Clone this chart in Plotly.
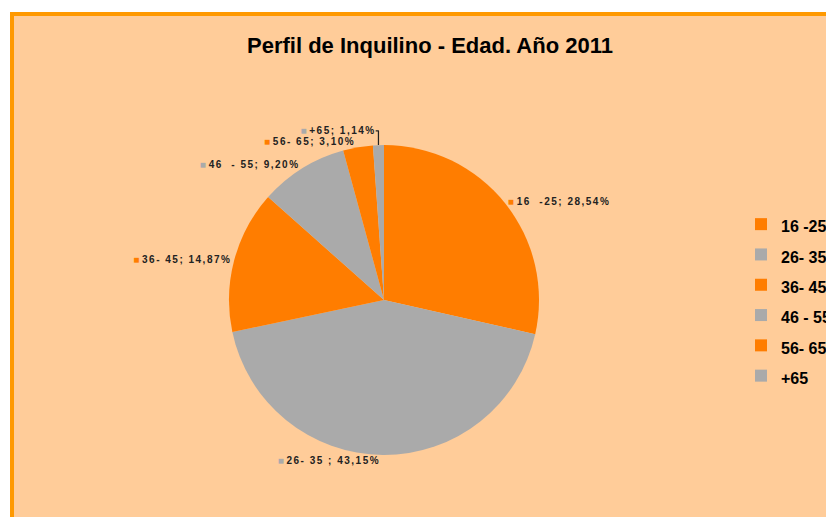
import plotly.graph_objects as go

categories = ["16 -25", "26- 35", "36- 45", "46 - 55", "56- 65", "+65"]
values = [28.54, 43.15, 14.87, 9.20, 3.10, 1.14]
label_texts = ["16  -25; 28,54%", "26- 35 ; 43,15%", "36- 45; 14,87%",
               "46  - 55; 9,20%", "56- 65; 3,10%", "+65; 1,14%"]

ORANGE = "#FF7D00"
GRAY = "#AAAAAA"
colors = [ORANGE, GRAY, ORANGE, GRAY, ORANGE, GRAY]

W, H = 834, 517
OFF = 8  # page body margin

def px(x):
    return (x - OFF) / W

def py(y):
    return 1 - (y - OFF) / H

slice_text = [f"<span style='color:{c}'>■</span> <span style='letter-spacing:1.5px'>{t}</span>"
              for c, t in zip(colors, label_texts)]
legend_labels = [f"<span style='font-size:16px'><b>{c}</b></span>" for c in categories]

cx, cy, R = 384, 300, 155

fig = go.Figure(go.Pie(
    labels=legend_labels,
    values=values,
    text=slice_text,
    textinfo="text",
    textposition="outside",
    sort=False,
    direction="clockwise",
    rotation=0,
    marker=dict(colors=colors, line=dict(width=0)),
    textfont=dict(family="Arial", size=10, color="#222222", weight="bold"),
    domain=dict(x=[px(cx - R), px(cx + R)], y=[py(cy + R), py(cy - R)]),
    showlegend=True,
    hoverinfo="skip",
))

fig.update_layout(
    width=W, height=H,
    margin=dict(l=0, r=0, t=0, b=0),
    paper_bgcolor="white",
    plot_bgcolor="white",
    title=dict(text="<b>Perfil de Inquilino - Edad. Año 2011</b>",
               x=px(430), xanchor="center", y=py(45), yanchor="middle",
               font=dict(family="Arial", size=22, color="black")),
    legend=dict(x=px(741), xanchor="left", y=py(204), yanchor="top",
                font=dict(family="Arial", size=21, color="black"),
                bgcolor="rgba(0,0,0,0)"),
    shapes=[dict(type="rect", xref="paper", yref="paper",
                 x0=px(12), x1=1.05, y0=-0.05, y1=py(14),
                 line=dict(color="#FF9900", width=4),
                 fillcolor="#FFCC99", layer="below")],
)

fig.write_html("out.html")
